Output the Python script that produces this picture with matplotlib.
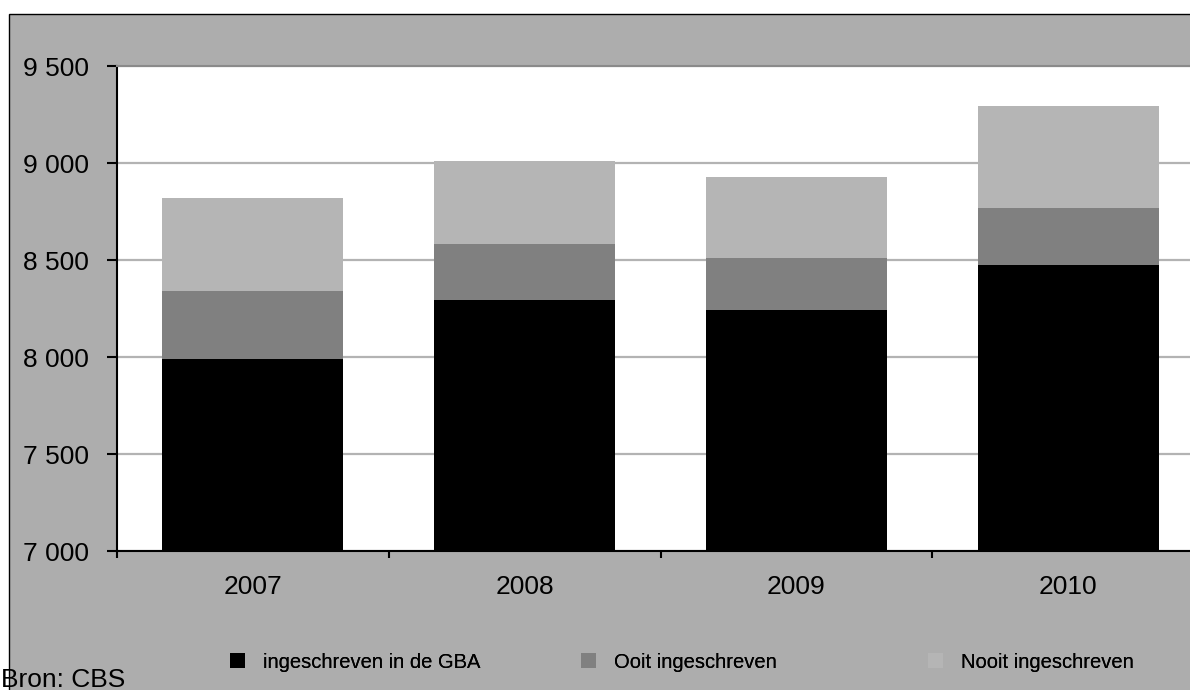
import matplotlib
matplotlib.use('Agg')
import matplotlib.pyplot as plt
from matplotlib.patches import Rectangle, Patch
from matplotlib.ticker import FuncFormatter, FixedLocator
import numpy as np

# ── Data ─────────────────────────────────────────────────────────────────
years = ["2007", "2008", "2009", "2010"]
gba = [7990, 8295, 8242, 8474]          # ingeschreven in de GBA
ooit = [350, 285, 268, 294]             # Ooit ingeschreven
nooit = [480, 430, 418, 526]            # Nooit ingeschreven
series_names = ["ingeschreven in de GBA", "Ooit ingeschreven", "Nooit ingeschreven"]
series_colors = ["#000000", "#808080", "#b5b5b5"]

Y_MIN, Y_MAX = 7000, 9500
W, H = 1190, 690

plt.rcParams['font.family'] = ['Liberation Sans', 'DejaVu Sans']

fig = plt.figure(figsize=(W / 100, H / 100), dpi=100)
fig.patch.set_facecolor('white')

# grey chart area with black border (cut off at right/bottom)
fig.patches.append(Rectangle((9 / W, -0.1), 1.2, (H - 14) / H + 0.1,
                             transform=fig.transFigure, facecolor='#adadad',
                             edgecolor='black', linewidth=1.0, zorder=-5))

# plot area extends past the right edge of the picture
left, right = 117 / W, 1204 / W
bottom, top = (H - 551) / H, (H - 66) / H
ax = fig.add_axes([left, bottom, right - left, top - bottom])
ax.set_facecolor('white')

x = np.arange(len(years))
bw = 0.666
# black bars start from zero (axis starts at 7000)
ax.bar(x, gba, bw, color=series_colors[0], zorder=3)
ax.bar(x, ooit, bw, bottom=gba, color=series_colors[1], zorder=3)
ax.bar(x, nooit, bw, bottom=np.array(gba) + np.array(ooit),
       color=series_colors[2], zorder=3)

ax.set_xlim(-0.5, len(years) - 0.5)
ax.set_ylim(Y_MIN, Y_MAX)
ax.set_yticks(np.arange(Y_MIN, Y_MAX + 1, 500))
ax.yaxis.set_major_formatter(FuncFormatter(lambda v, p: f"{v:,.0f}".replace(",", " ")))
ax.yaxis.grid(True, color='#b3b3b3', linewidth=1.6, zorder=1)
ax.set_axisbelow(True)

# category boundaries as tick marks, labels in the middle
ax.xaxis.set_major_locator(FixedLocator(np.arange(-0.5, len(years), 1.0)))
ax.xaxis.set_minor_locator(FixedLocator(x))
ax.set_xticklabels([], minor=False)
ax.set_xticklabels(years, minor=True)
ax.tick_params(axis='x', which='major', direction='out', length=5, width=1.5)
ax.tick_params(axis='x', which='minor', length=0, pad=17, labelsize=19)
ax.tick_params(axis='y', direction='out', length=7, width=1.5, pad=13, labelsize=19)

for side in ['left', 'bottom']:
    ax.spines[side].set_color('black')
    ax.spines[side].set_linewidth(1.5)
ax.spines['top'].set_color('#8a8a8a')
ax.spines['top'].set_linewidth(1.5)
ax.spines['right'].set_visible(False)

# legend: three entries at fixed positions, like the Excel layout
leg_x = [230, 581, 928]
for name, col, lx in zip(series_names, series_colors, leg_x):
    lg = fig.legend(handles=[Patch(facecolor=col, edgecolor='none')], labels=[name],
                    loc='center left', bbox_to_anchor=(lx / W, (H - 662) / H),
                    frameon=False, borderpad=0, borderaxespad=0,
                    handlelength=0.75, handleheight=0.75, handletextpad=0.9,
                    prop={'size': 14.5})
    fig.add_artist(lg)

fig.text(1 / W, 3 / H, "Bron: CBS", ha='left', va='baseline', fontsize=19)

fig.savefig('out.png', dpi=100, facecolor=fig.get_facecolor())
